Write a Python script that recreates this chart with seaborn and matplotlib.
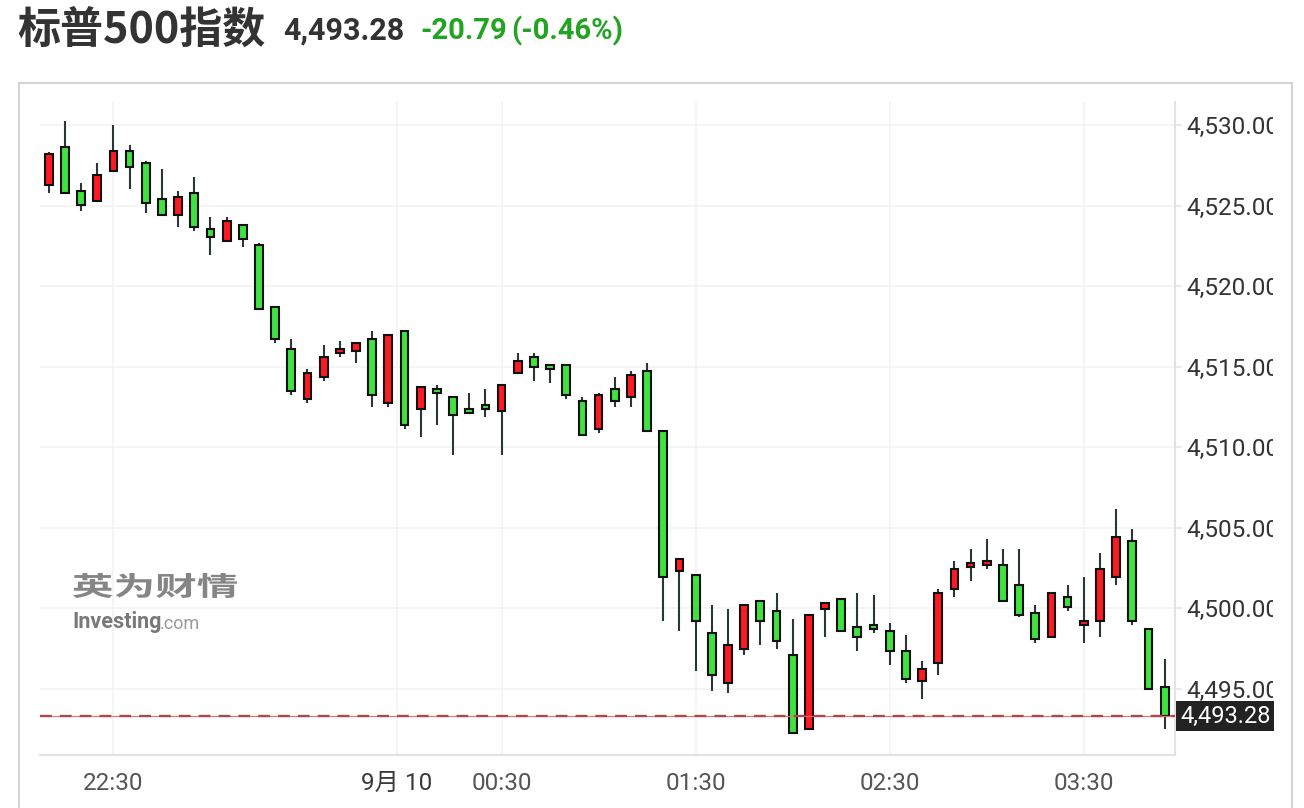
import matplotlib
matplotlib.use("Agg")
import numpy as np
import matplotlib.pyplot as plt
import seaborn as sns
from matplotlib.patches import Rectangle, PathPatch
from matplotlib.textpath import TextPath
from matplotlib.font_manager import FontProperties
from matplotlib.transforms import Affine2D, Bbox, TransformedBbox

# =====================================================
# dados (velas de 5 min)
# =====================================================
opens = [4526.27, 4528.65, 4525.92, 4525.28, 4527.14, 4528.40, 4527.66, 4525.42, 4524.39, 4525.80,
         4523.56, 4522.80, 4523.81, 4522.57, 4518.71, 4516.11, 4512.98, 4514.33, 4515.82, 4515.94,
         4516.73, 4512.71, 4517.22, 4512.34, 4513.62, 4513.12, 4512.38, 4512.63, 4512.22, 4514.58,
         4515.61, 4515.11, 4515.11, 4512.88, 4511.10, 4513.62, 4513.09, 4514.74, 4511.01, 4502.32,
         4502.07, 4498.47, 4495.36, 4497.47, 4500.45, 4499.83, 4497.10, 4492.50, 4499.96, 4500.58,
         4498.84, 4498.96, 4498.59, 4497.35, 4495.47, 4496.57, 4501.16, 4502.53, 4502.65, 4502.69,
         4501.45, 4499.71, 4498.18, 4500.70, 4498.93, 4499.17, 4501.91, 4504.18, 4498.71, 4495.11]
highs = [4528.34, 4530.25, 4526.38, 4527.62, 4530.00, 4528.74, 4527.75, 4527.25, 4525.90, 4526.75,
         4524.27, 4524.27, 4523.81, 4522.65, 4518.71, 4516.69, 4514.83, 4516.32, 4516.57, 4516.48,
         4517.19, 4516.97, 4517.22, 4513.75, 4513.83, 4513.12, 4513.34, 4513.58, 4513.87, 4515.82,
         4515.82, 4515.11, 4515.11, 4513.09, 4513.34, 4514.33, 4514.70, 4515.20, 4511.01, 4503.06,
         4502.07, 4500.17, 4499.92, 4500.20, 4500.45, 4500.91, 4499.30, 4499.58, 4500.33, 4500.58,
         4500.91, 4500.79, 4499.05, 4498.30, 4496.69, 4501.16, 4502.90, 4503.65, 4504.27, 4503.65,
         4503.65, 4500.17, 4500.95, 4501.41, 4501.91, 4503.40, 4506.13, 4504.89, 4498.71, 4496.81]
lows = [4525.80, 4525.78, 4524.68, 4525.28, 4527.14, 4526.04, 4524.55, 4524.39, 4523.68, 4523.43,
        4521.94, 4522.80, 4522.44, 4518.57, 4516.48, 4513.25, 4512.75, 4514.12, 4515.61, 4515.24,
        4512.50, 4512.50, 4511.14, 4510.64, 4511.39, 4509.52, 4512.09, 4511.88, 4509.52, 4514.58,
        4514.12, 4513.99, 4513.00, 4510.73, 4510.89, 4512.50, 4512.50, 4510.99, 4499.21, 4498.59,
        4496.11, 4494.86, 4494.74, 4497.10, 4497.72, 4497.47, 4492.25, 4492.50, 4498.22, 4498.59,
        4497.35, 4498.47, 4496.48, 4495.36, 4494.37, 4495.86, 4500.70, 4501.70, 4502.44, 4500.42,
        4499.46, 4497.84, 4498.18, 4499.83, 4497.84, 4498.22, 4501.45, 4498.96, 4494.95, 4492.50]
closes = [4528.18, 4525.78, 4525.03, 4526.91, 4528.40, 4527.39, 4525.16, 4524.39, 4525.55, 4523.65,
          4523.04, 4524.06, 4522.92, 4518.57, 4516.71, 4513.48, 4514.61, 4515.61, 4516.11, 4516.48,
          4513.21, 4516.97, 4511.35, 4513.75, 4513.34, 4511.97, 4512.09, 4512.34, 4513.87, 4515.36,
          4514.95, 4514.83, 4513.21, 4510.73, 4513.25, 4512.84, 4514.49, 4510.99, 4501.91, 4503.06,
          4499.21, 4495.86, 4497.72, 4500.20, 4499.17, 4497.97, 4492.25, 4499.58, 4500.33, 4498.59,
          4498.22, 4498.71, 4497.35, 4495.59, 4496.23, 4500.95, 4502.44, 4502.81, 4502.94, 4500.42,
          4499.55, 4498.06, 4500.95, 4500.04, 4499.21, 4502.44, 4504.43, 4499.17, 4494.95, 4493.28]

tick_pos = [4, 21.52, 28, 40, 52, 64]
tick_labels = ["22:30", "9月 10", "00:30", "01:30", "02:30", "03:30"]
y_ticks = [4495, 4500, 4505, 4510, 4515, 4520, 4525, 4530]

titulo = "标普500指数"
ultimo = 4493.28
variacao = "-20.79"
variacao_pct = "(-0.46%)"

COR_ALTA = "#ff1a22"
COR_BAIXA = "#3fe23f"

# =====================================================
# estilo
# =====================================================
sns.set_theme(style="white")
plt.rcParams["font.family"] = ["Roboto", "Noto Sans CJK SC", "DejaVu Sans"]

W, H = 1304, 808
fig = plt.figure(figsize=(W / 100, H / 100), dpi=100)
ax = fig.add_axes([40 / W, 1 - 755 / H, (1175 - 40) / W, (755 - 102) / H])

x = np.arange(len(opens))
o = np.array(opens)
c = np.array(closes)
cores = [COR_ALTA if cc > oo else COR_BAIXA for oo, cc in zip(o, c)]

# pavios
ax.vlines(x, lows, highs, color="#2c3636", lw=1.5, zorder=2)
# corpos
ax.bar(x, np.abs(c - o), bottom=np.minimum(o, c), width=0.48, color=cores,
       edgecolor="#111111", linewidth=1.5, zorder=3)

# linha do último preço
ax.axhline(ultimo, color="#ff6b6b", lw=0.8, zorder=4)
ax.axhline(ultimo, color="#a84a4a", lw=1.7, dashes=(5, 3.4), zorder=4)

ax.set_xlim(-0.54, 69.64)
ax.set_ylim(4490.87, 4531.43)
ax.set_xticks(tick_pos)
ax.set_xticklabels(tick_labels)
ax.set_yticks(y_ticks)
ax.set_yticklabels([f"{v:,.2f}" for v in y_ticks])
ax.yaxis.tick_right()

ax.grid(True, color="#f2f2f2", lw=1.1)
ax.set_axisbelow(True)
for lado in ["left", "top"]:
    ax.spines[lado].set_visible(False)
for lado in ["right", "bottom"]:
    ax.spines[lado].set_color("#dfe3e8")
    ax.spines[lado].set_linewidth(1.5)

ax.tick_params(axis="x", length=8, width=1.1, color="#dfe3e8", pad=4,
               labelsize=17.5, labelcolor="#555555")
ax.tick_params(axis="y", length=5, width=1.1, color="#dfe3e8", pad=3,
               labelsize=17.5, labelcolor="#333333")
ax.get_xticklabels()[1].set_color("#3a3a3a")

# etiqueta do preço atual
ax.annotate(f"{ultimo:,.2f}", xy=(1, ultimo), xycoords=ax.get_yaxis_transform(),
            xytext=(5, 0), textcoords="offset pixels", ha="left", va="center",
            fontsize=17, color="white", annotation_clip=False, zorder=6,
            bbox=dict(boxstyle="square,pad=0.15", fc="#222222", ec="none"))

# moldura do painel
fig.add_artist(Rectangle((19 / W, -0.02), (1292 - 19) / W, (808 - 83) / H + 0.02,
                         transform=fig.transFigure, fill=False, ec="#d2d2d2", lw=1.4))

# marca d'água
fp = FontProperties(family="Noto Sans CJK SC", weight="bold")
tp = TextPath((0, 0), "英为财情", size=1, prop=fp)
bb = tp.get_extents()
tr = (Affine2D().translate(-bb.x0, -bb.y0)
      .scale(164 / bb.width / W, 25 / bb.height / H)
      .translate(73 / W, 1 - 598 / H)) + fig.transFigure
fig.add_artist(PathPatch(tp, transform=tr, fc="#707070", ec="none", alpha=0.85))
fig.text(72 / W, 1 - 622 / H, "Investing", fontsize=15.5, fontweight="bold",
         color="#6a6a6a", va="center", alpha=0.9)
fig.text(160 / W, 1 - 624 / H, ".com", fontsize=13, color="#9a9a9a", va="center")

# título
fig.text(17 / W, 1 - 30 / H, titulo, fontsize=31, fontweight="bold", color="#333333",
         va="center", family=["Noto Sans CJK SC", "DejaVu Sans"])
fig.text(283 / W, 1 - 31 / H, f"{ultimo:,.2f}", fontsize=22, fontweight="bold",
         color="#333333", va="center")
fig.text(420 / W, 1 - 31 / H, variacao, fontsize=21, fontweight="bold",
         color="#22a322", va="center")
fig.text(511 / W, 1 - 31 / H, variacao_pct, fontsize=21, fontweight="bold",
         color="#22a322", va="center")

# recorta os rótulos do eixo y como no original
fig.canvas.draw()
caixa = TransformedBbox(Bbox.from_extents(1175 / W, 0, 1273 / W, 1), fig.transFigure)
for t in ax.yaxis.get_major_ticks():
    for lab in (t.label1, t.label2):
        lab.set_clip_box(caixa)
        lab.set_clip_on(True)

fig.savefig("out.png", dpi=100)
plt.close(fig)
